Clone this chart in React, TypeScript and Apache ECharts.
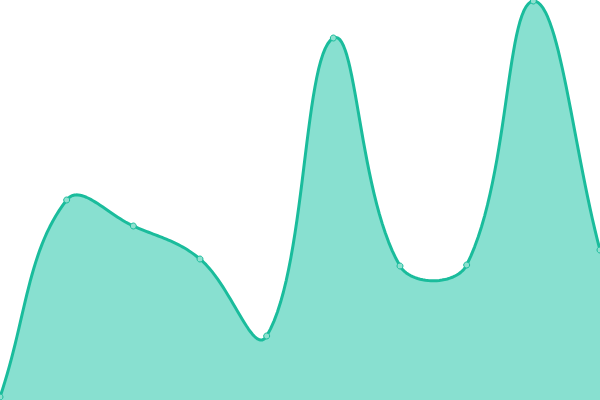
import { useEffect, useRef } from "react";
import * as echarts from "echarts";

const categories = ["1", "2", "3", "4", "5", "6", "7", "8", "9", "10"];
const values = [3, 200, 174, 141, 64, 362, 134, 135, 399, 150];

const lineColor = "#1abc9c";
const areaColor = "#88e0d0";
const pointFill = "#8ee0cf";
const tension = 0.4;

type Pt = number[];

// cardinal-style spline through the points, control points kept inside the plot
function splinePoints(pts: Pt[], t: number, box: { x: number; y: number; width: number; height: number }) {
  const clampX = (v: number) => Math.min(Math.max(v, box.x), box.x + box.width);
  const clampY = (v: number) => Math.min(Math.max(v, box.y), box.y + box.height);
  const cps = pts.map((cur, i) => {
    const prev = pts[i - 1] || cur;
    const next = pts[i + 1] || cur;
    const d01 = Math.hypot(cur[0] - prev[0], cur[1] - prev[1]);
    const d12 = Math.hypot(next[0] - cur[0], next[1] - cur[1]);
    const sum = d01 + d12 || 1;
    const fa = (t * d01) / sum;
    const fb = (t * d12) / sum;
    const dx = next[0] - prev[0];
    const dy = next[1] - prev[1];
    return {
      before: [clampX(cur[0] - fa * dx), clampY(cur[1] - fa * dy)],
      after: [clampX(cur[0] + fb * dx), clampY(cur[1] + fb * dy)],
    };
  });
  const out: Pt[] = [pts[0]];
  const steps = 30;
  for (let i = 0; i < pts.length - 1; i++) {
    const p0 = pts[i];
    const c1 = cps[i].after;
    const c2 = cps[i + 1].before;
    const p3 = pts[i + 1];
    for (let s = 1; s <= steps; s++) {
      const u = s / steps;
      const a = (1 - u) ** 3;
      const b = 3 * (1 - u) ** 2 * u;
      const c = 3 * (1 - u) * u * u;
      const d = u ** 3;
      out.push([
        a * p0[0] + b * c1[0] + c * c2[0] + d * p3[0],
        a * p0[1] + b * c1[1] + c * c2[1] + d * p3[1],
      ]);
    }
  }
  return out;
}

export default function App() {
  const chartRef = useRef<HTMLDivElement>(null);

  useEffect(() => {
    document.body.style.margin = "0";
    let chart: echarts.ECharts | null = null;
    if (chartRef.current) {
      chart = echarts.init(chartRef.current, null, { renderer: "svg" });
      chart.setOption({
        animation: false,
        grid: { left: 0, right: 0, top: 0, bottom: 0 },
        xAxis: {
          type: "category",
          boundaryGap: false,
          data: categories,
          show: false,
        },
        yAxis: { type: "value", min: 0, max: 400, show: false },
        series: [
          {
            type: "custom",
            clip: false,
            data: values.map((v, i) => [i, v]),
            encode: { x: 0, y: 1 },
            renderItem: (params: any, api: any) => {
              const idx = params.dataIndex;
              const pt = api.coord([idx, values[idx]]);
              const marker = {
                type: "circle",
                z2: 10,
                shape: { cx: pt[0], cy: pt[1], r: 3 },
                style: { fill: pointFill, stroke: lineColor, lineWidth: 1 },
              };
              if (idx !== 0) return marker;
              const cs = params.coordSys;
              const pts = values.map((v, i) => api.coord([i, v]));
              const curve = splinePoints(pts, tension, cs);
              const area = [
                ...curve,
                [cs.x + cs.width, cs.y + cs.height],
                [cs.x, cs.y + cs.height],
              ];
              return {
                type: "group",
                children: [
                  { type: "polygon", shape: { points: area }, style: { fill: areaColor } },
                  {
                    type: "polyline",
                    shape: { points: curve },
                    style: { fill: "none", stroke: lineColor, lineWidth: 3, lineJoin: "round" },
                  },
                  marker,
                ],
              };
            },
          },
        ],
      });
    }
    return () => {
      chart?.dispose();
    };
  }, []);

  return <div ref={chartRef} style={{ width: "600px", height: "400px" }} />;
}
